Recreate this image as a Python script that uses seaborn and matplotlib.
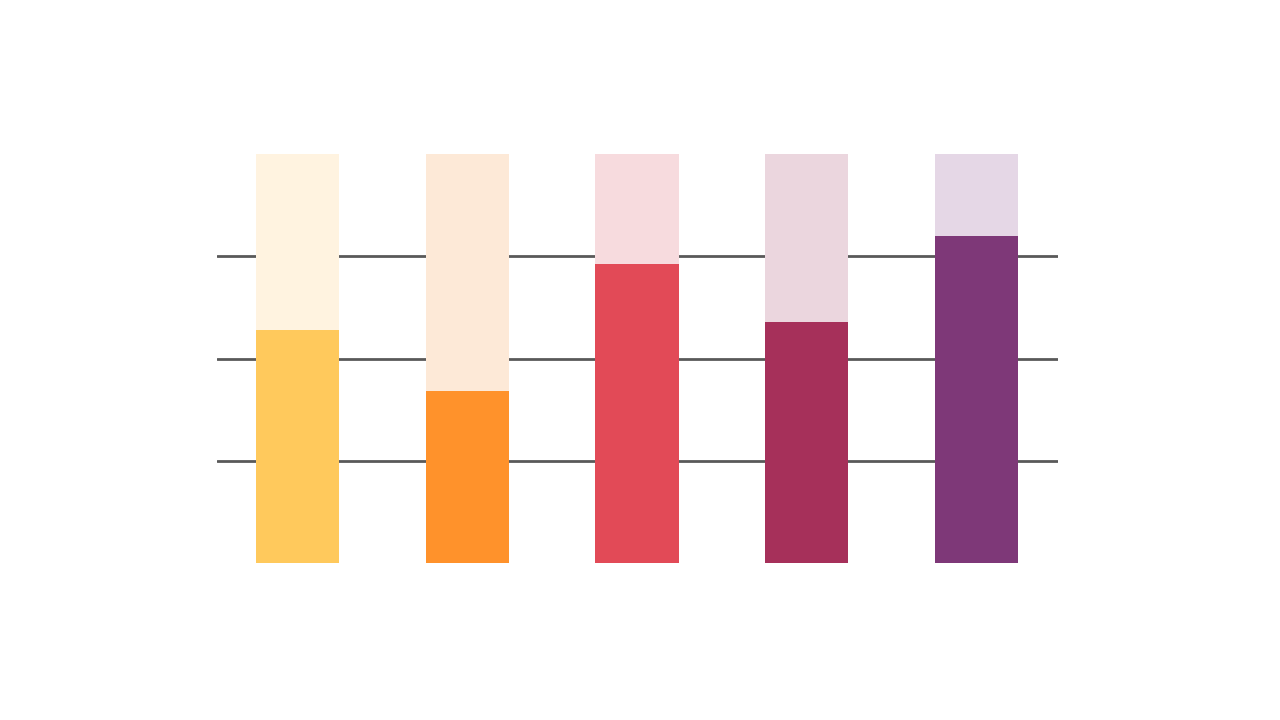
import matplotlib
matplotlib.use("Agg")
import matplotlib.pyplot as plt
import seaborn as sns

categories = ["A", "B", "C", "D", "E"]
values = [57, 42, 73, 59, 80]
totals = [100, 100, 100, 100, 100]
colors = ["#FFC95C", "#FF922B", "#E24A57", "#A6305A", "#7E3878"]
light_colors = ["#FFF3E0", "#FDE9D7", "#F7DBDE", "#EBD6DE", "#E5D7E6"]
grid_values = [25, 50, 75]

sns.set_theme(style="white")
fig = plt.figure(figsize=(12.8, 7.2), dpi=100)
ax = fig.add_axes([217 / 1280, 1 - 563 / 720, (1058 - 217) / 1280, (563 - 154) / 720])

sns.barplot(x=categories, y=totals, hue=categories, palette=light_colors,
            width=0.49, legend=False, ax=ax, saturation=1, linewidth=0)
sns.barplot(x=categories, y=values, hue=categories, palette=colors,
            width=0.49, legend=False, ax=ax, saturation=1, linewidth=0)

ax.set_xlim(-0.475, 4.48)
ax.set_ylim(0, 100)
ax.set_yticks(grid_values)
ax.yaxis.grid(True, color="#595959", linewidth=2)
ax.set_axisbelow(True)
ax.tick_params(left=False, bottom=False, labelleft=False, labelbottom=False)
ax.set_xlabel("")
ax.set_ylabel("")
for s in ax.spines.values():
    s.set_visible(False)

fig.savefig("out.png", dpi=100)
